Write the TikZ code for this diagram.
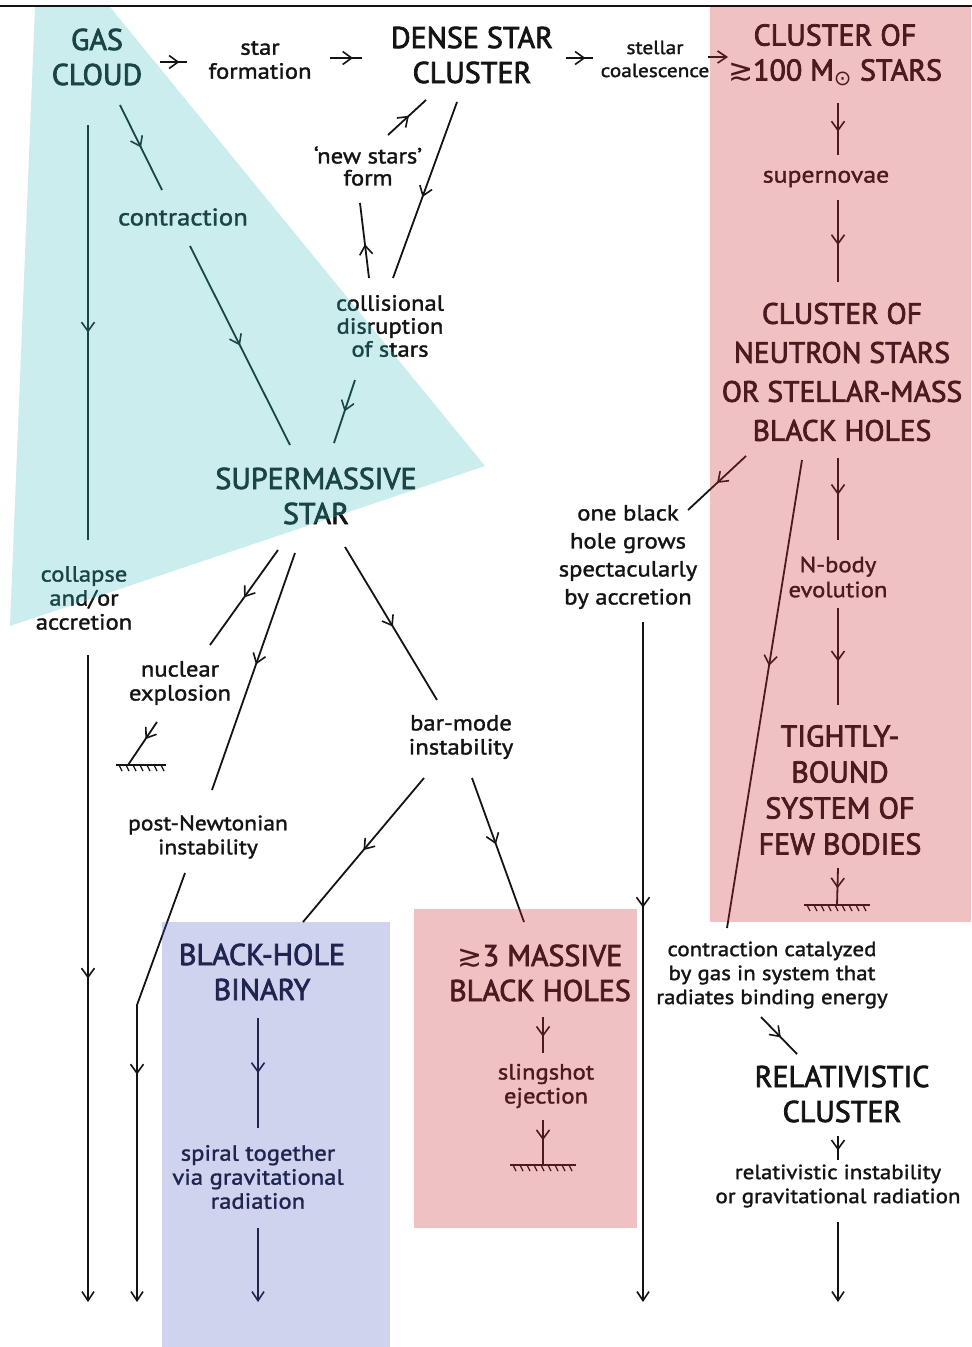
\documentclass[tikz,border=0pt]{standalone}
\usepackage{fontspec}
\usetikzlibrary{arrows.meta,decorations.markings}
\setmainfont{PT Sans}
\newfontfamily\handbig{PT Sans}[FakeBold=2.5]
\newfontfamily\handsmall{PT Sans}[FakeStretch=1.12, FakeBold=1.5]
\newfontfamily\symf{DejaVu Sans}
\newcommand\bigsz[2]{\handbig\fontsize{#1}{#2}\selectfont}
\newcommand\smsz[2]{\handsmall\fontsize{#1}{#2}\selectfont}

\definecolor{cyanbg}{HTML}{CBEDED}
\definecolor{pinkbg}{HTML}{F0C1C3}
\definecolor{lavbg}{HTML}{CFD3EE}
\definecolor{inkblack}{HTML}{141414}
\definecolor{inkteal}{HTML}{1B4545}
\definecolor{inkmaroon}{HTML}{4A1A20}
\definecolor{inknavy}{HTML}{1F2550}
\colorlet{ink}{inkblack}

\tikzset{
  wire/.style={draw=ink, line width=1.8pt},
  midarr/.style={postaction={decorate}, decoration={markings,
      mark=at position #1 with {\arrow[color=ink, line width=1.6pt]{Straight Barb[length=9pt,width=13pt]}}}},
  midarr/.default=0.5,
  tipend/.style={-{Straight Barb[length=9pt,width=12pt,line width=1.6pt]}},
  bigtext/.style={text=ink, align=center, inner sep=0pt, font=\bigsz{30}{35}},
  smalltext/.style={text=ink, align=center, inner sep=0pt, font=\smsz{22}{24}},
}

% ground sign: centre, half width, last hatch index
\newcommand\earth[3]{%
  \draw[wire] ([xshift=-#2]#1) -- ([xshift=#2]#1);
  \foreach \k in {0,...,#3}
    \draw[draw=ink, line width=1.3pt] ([xshift={-#2+3+\k*7}]#1) -- ++(3,6);
}

% all lettering and connectors, drawn in the current ink colour
\newcommand\inklayer{%
  \node[bigtext] (gas) at (97,57) {GAS\\CLOUD};
  \node[smalltext] (sf) at (260,60) {star\\formation};
  \node[bigtext] (dsc) at (472,55) {DENSE STAR\\CLUSTER};
  \node[smalltext, font=\smsz{19}{23}] (sc) at (655,59) {stellar\\coalescence};
  \node[bigtext] (c100) at (835,55) {CLUSTER OF\\{\symf ≳}100 M\textsubscript{\symf ⊙} STARS};
  \node[smalltext, font=\smsz{23}{24}] (snov) at (826,179) {supernovae};
  \node[bigtext, font=\bigsz{29.5}{39}] (cns) at (842,372) {CLUSTER OF\\NEUTRON STARS\\OR STELLAR-MASS\\BLACK HOLES};
  \node[smalltext, font=\smsz{22}{22}] (newst) at (368,166) {‘new stars’\\form};
  \node[smalltext, font=\smsz{24}{24}] (contr) at (183,217) {contraction};
  \node[smalltext, font=\smsz{22}{23}] (coll) at (390,326) {collisional\\disruption\\of stars};
  \node[bigtext] (sms) at (316,496) {SUPERMASSIVE\\STAR};
  \node[smalltext] (cao) at (84,598) {collapse\\and/or\\accretion};
  \node[smalltext] (nuc) at (180,683) {nuclear\\explosion};
  \node[smalltext, font=\smsz{21}{24}] (pn) at (208,837) {post-Newtonian\\instability};
  \node[smalltext] (bar) at (461,737) {bar-mode\\instability};
  \node[smalltext, font=\smsz{22}{28}] (onebh) at (628,557) {one black\\hole grows\\spectacularly\\by accretion};
  \node[smalltext, font=\smsz{22}{25}] (nbody) at (838,577) {N-body\\evolution};
  \node[bigtext, font=\bigsz{30}{36}] (tb) at (840,790) {TIGHTLY-\\BOUND\\SYSTEM OF\\FEW BODIES};
  \node[bigtext] (bhb) at (262,972) {BLACK-HOLE\\BINARY};
  \node[smalltext] (spiral) at (258,1177) {spiral together\\via gravitational\\radiation};
  \node[bigtext] (m3) at (540,973) {{\symf ≳}3 MASSIVE\\BLACK HOLES};
  \node[smalltext] (sling) at (546,1086) {slingshot\\ejection};
  \node[smalltext, font=\smsz{20.5}{24}] (ccat) at (772,975) {contraction catalyzed\\by gas in system that\\radiates binding energy};
  \node[bigtext] (rel) at (842,1094) {RELATIVISTIC\\CLUSTER};
  \node[smalltext, font=\smsz{20.5}{24}] (relinst) at (838,1186) {relativistic instability\\or gravitational radiation};
  % ground signs, bend and open ends
  \coordinate (g1) at (141,765);
  \coordinate (g2) at (543,1165);
  \coordinate (g3) at (837,905);
  \coordinate (k1) at (137,1005);
  \coordinate (e1) at (88,1302);
  \coordinate (e2) at (137,1302);
  \coordinate (e3) at (258,1302);
  \coordinate (e4) at (643,1302);
  \coordinate (e5) at (838,1302);
  \earth{g1}{25}{6}
  \earth{g2}{33}{8}
  \earth{g3}{33}{8}
  % top row
  \draw[wire, midarr=0.72] ([shift={(63,5)}]gas.center) -- ([shift={(-73,2)}]sf.center);
  \draw[wire, midarr=0.72] ([shift={(70,-2)}]sf.center) -- ([shift={(-110,3)}]dsc.center);
  \draw[wire, midarr=0.72] ([shift={(94,3)}]dsc.center) -- ([shift={(-62,-1)}]sc.center);
  \draw[wire, tipend] ([shift={(53,-2)}]sc.center) -- ([shift={(-107,2)}]c100.center);
  % right-hand column
  \draw[wire, midarr=0.55] ([shift={(3,48)}]c100.center) -- ([shift={(12,-24)}]snov.center);
  \draw[wire, midarr=0.55] ([shift={(12,21)}]snov.center) -- ([shift={(-4,-90)}]cns.center);
  \draw[wire, midarr=0.5] ([shift={(-96,84)}]cns.center) -- ([shift={(60,-47)}]onebh.center);
  \draw[wire, midarr=0.44] ([shift={(-40,88)}]cns.center) -- ([shift={(-45,-47)}]ccat.center);
  \draw[wire, midarr=0.45] ([shift={(-4,86)}]cns.center) -- ([shift={(0,-37)}]nbody.center);
  \draw[wire, midarr=0.55] ([shift={(0,31)}]nbody.center) -- ([shift={(-2,-85)}]tb.center);
  \draw[wire, midarr=0.55] ([shift={(-2,78)}]tb.center) -- (g3);
  \draw[wire, midarr=0.42, tipend] ([shift={(15,65)}]onebh.center) -- (e4);
  \draw[wire, midarr=0.55] ([shift={(-11,42)}]ccat.center) -- ([shift={(-45,-40)}]rel.center);
  \draw[wire, midarr=0.6] ([shift={(-4,42)}]rel.center) -- ([shift={(0,-26)}]relinst.center);
  \draw[wire, tipend] ([shift={(0,36)}]relinst.center) -- (e5);
  % dense star cluster loop
  \draw[wire, midarr=0.55] ([shift={(20,-31)}]newst.center) -- ([shift={(-46,45)}]dsc.center);
  \draw[wire, midarr=0.54] ([shift={(-15,47)}]dsc.center) -- ([shift={(3,-48)}]coll.center);
  \draw[wire, midarr=0.45] ([shift={(-21,-48)}]coll.center) -- ([shift={(-8,37)}]newst.center);
  \draw[wire, midarr=0.5] ([shift={(-35,54)}]coll.center) -- ([shift={(18,-53)}]sms.center);
  % gas cloud routes
  \draw[wire, midarr=0.5] ([shift={(23,48)}]gas.center) -- ([shift={(-21,-27)}]contr.center);
  \draw[wire, midarr=0.5] ([shift={(7,29)}]contr.center) -- ([shift={(-26,-51)}]sms.center);
  \draw[wire, midarr=0.5] ([shift={(-9,68)}]gas.center) -- ([shift={(4,-58)}]cao.center);
  \draw[wire, midarr=0.5, tipend] ([shift={(4,57)}]cao.center) -- (e1);
  % fates of the supermassive star
  \draw[wire, midarr=0.5] ([shift={(-38,54)}]sms.center) -- ([shift={(30,-38)}]nuc.center);
  \draw[wire, midarr=0.4] ([shift={(-23,39)}]nuc.center) -- ([xshift=-13]g1);
  \draw[wire, midarr=0.47] ([shift={(-21,57)}]sms.center) -- ([shift={(4,-47)}]pn.center);
  \draw[wire, midarr=0.48, tipend] ([shift={(-23,36)}]pn.center) -- (k1) -- (e2);
  \draw[wire, midarr=0.52] ([shift={(29,51)}]sms.center) -- ([shift={(-24,-37)}]bar.center);
  \draw[wire, midarr=0.5] ([shift={(-37,41)}]bar.center) -- ([shift={(41,-50)}]bhb.center);
  \draw[wire, midarr=0.46] ([shift={(11,41)}]bar.center) -- ([shift={(-16,-51)}]m3.center);
  \draw[wire, midarr=0.5] ([shift={(-4,46)}]bhb.center) -- ([shift={(0,-49)}]spiral.center);
  \draw[wire, tipend] ([shift={(0,51)}]spiral.center) -- (e3);
  \draw[wire, midarr=0.55] ([shift={(3,44)}]m3.center) -- ([shift={(-3,-33)}]sling.center);
  \draw[wire, midarr=0.45] ([shift={(-3,34)}]sling.center) -- (g2);
}

\begin{document}
\begin{tikzpicture}[x=1pt, y=-1pt]
  \useasboundingbox (0,0) rectangle (972,1347);
  \fill[white] (0,0) rectangle (972,1347);
  % tinted areas
  \fill[cyanbg] (35,7) -- (110,7) -- (485,466) -- (10,626) -- cycle;
  \fill[pinkbg] (710,7) rectangle (971,922);
  \fill[pinkbg] (414,909) rectangle (637,1228);
  \fill[lavbg] (162,922) rectangle (390,1347);
  \draw[inkblack, line width=1.3pt] (0,6) -- (972,6);
  % ink on white paper
  \begin{scope}[even odd rule]
    \clip (0,0) rectangle (972,1347)
      (35,7) -- (110,7) -- (485,466) -- (10,626) -- cycle
      (710,7) rectangle (971,922)
      (414,909) rectangle (637,1228)
      (162,922) rectangle (390,1347);
    \inklayer
  \end{scope}
  % ink over the cyan area
  \begin{scope}
    \colorlet{ink}{inkteal}
    \clip (35,7) -- (110,7) -- (485,466) -- (10,626) -- cycle;
    \inklayer
  \end{scope}
  % ink over the pink areas
  \begin{scope}
    \colorlet{ink}{inkmaroon}
    \clip (710,7) rectangle (971,922) (414,909) rectangle (637,1228);
    \inklayer
  \end{scope}
  % ink over the lavender area
  \begin{scope}
    \colorlet{ink}{inknavy}
    \clip (162,922) rectangle (390,1347);
    \inklayer
  \end{scope}
\end{tikzpicture}
\end{document}
